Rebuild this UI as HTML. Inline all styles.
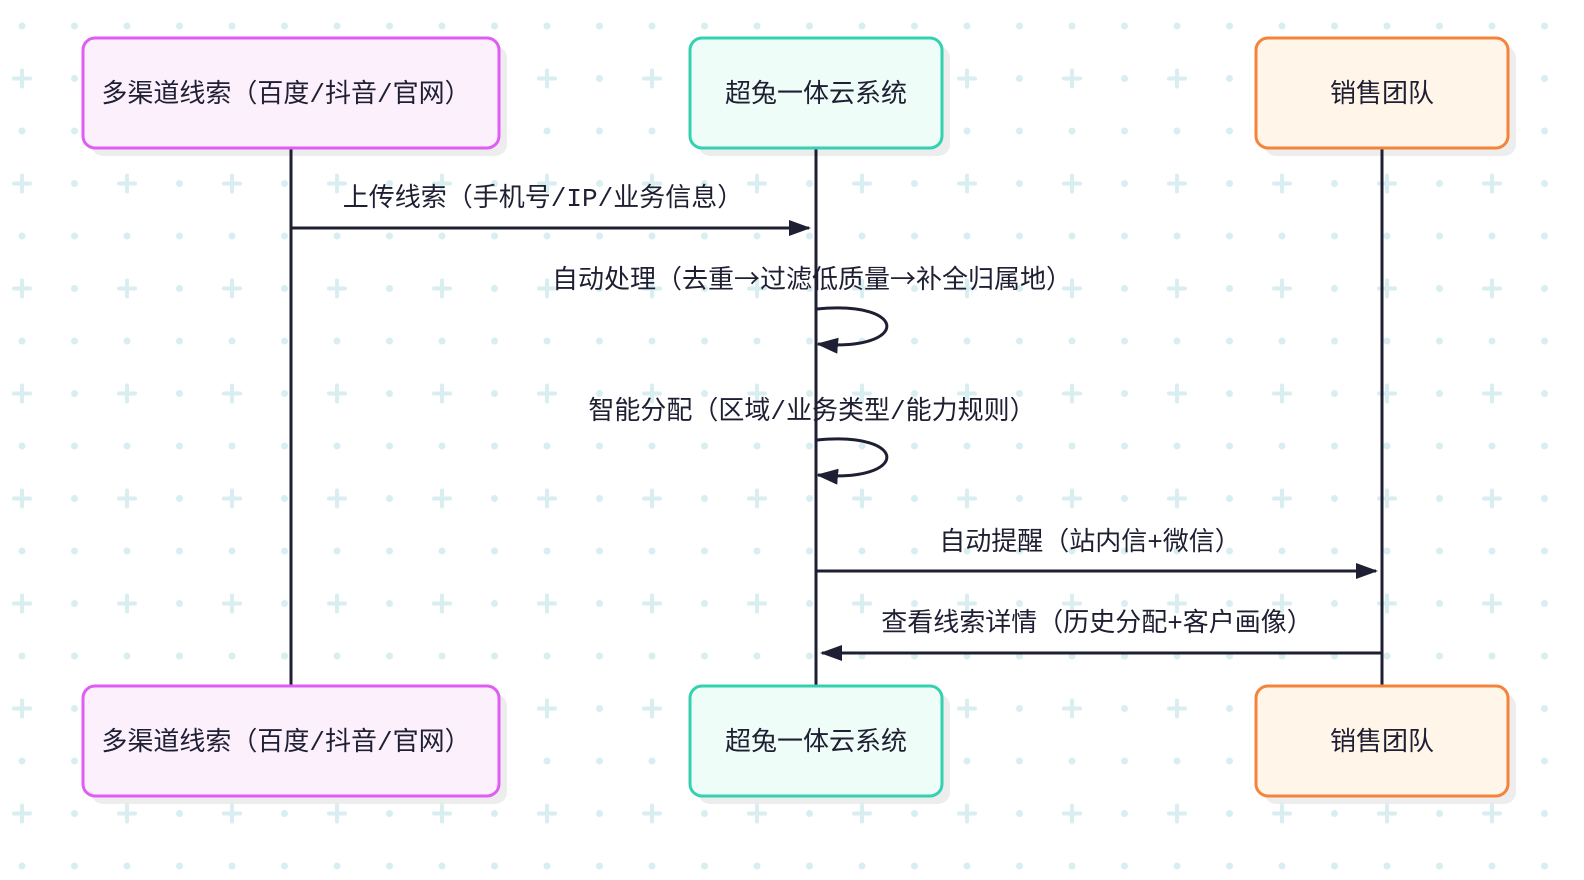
<!DOCTYPE html>
<html><head><meta charset="utf-8"><style>
html,body{margin:0;padding:0;background:#fff;width:1584px;height:880px;overflow:hidden}
svg text{font-family:"Liberation Mono","Noto Sans CJK SC",monospace;fill:#1f1f33}
.cjk{font-family:"Noto Sans CJK SC",sans-serif}
</style></head><body>
<svg width="1584" height="880" viewBox="0 0 1584 880" xmlns="http://www.w3.org/2000/svg">
<defs>
<pattern id="bg" x="12" y="16" width="105" height="105" patternUnits="userSpaceOnUse">
<circle cx="10" cy="10" r="3.5" fill="#d8eef1"/>
<circle cx="62.5" cy="10" r="3.5" fill="#d8eef1"/>
<circle cx="62.5" cy="62.5" r="3.5" fill="#d8eef1"/>
<path d="M2 62.5h16M10 54.5v16" stroke="#d8eef1" stroke-width="4" stroke-linecap="round"/>
</pattern>
<marker id="ah" markerWidth="22" markerHeight="16" refX="20" refY="8" orient="auto" markerUnits="userSpaceOnUse">
<path d="M0 0L22 8L0 16z" fill="#1f1f33"/>
</marker>
</defs>
<rect width="1584" height="880" fill="url(#bg)"/>
<g fill="#000" opacity="0.07">
<rect x="91" y="46" width="416" height="110" rx="12"/>
<rect x="698" y="46" width="252" height="110" rx="12"/>
<rect x="1264" y="46" width="252" height="110" rx="12"/>
<rect x="91" y="694" width="416" height="110" rx="12"/>
<rect x="698" y="694" width="252" height="110" rx="12"/>
<rect x="1264" y="694" width="252" height="110" rx="12"/>
</g>
<g stroke="#1f1f33" stroke-width="3">
<line x1="291" y1="148" x2="291" y2="686"/>
<line x1="816" y1="148" x2="816" y2="686"/>
<line x1="1382" y1="148" x2="1382" y2="686"/>
</g>
<g stroke-width="3">
<rect x="83" y="38" width="416" height="110" rx="12" fill="#fdf0fd" stroke="#e05cf5"/>
<rect x="690" y="38" width="252" height="110" rx="12" fill="#effdf9" stroke="#34d1b0"/>
<rect x="1256" y="38" width="252" height="110" rx="12" fill="#fff5e8" stroke="#f5843a"/>
<rect x="83" y="686" width="416" height="110" rx="12" fill="#fdf0fd" stroke="#e05cf5"/>
<rect x="690" y="686" width="252" height="110" rx="12" fill="#effdf9" stroke="#34d1b0"/>
<rect x="1256" y="686" width="252" height="110" rx="12" fill="#fff5e8" stroke="#f5843a"/>
</g>
<g font-size="26" text-anchor="middle">
<text x="286" y="102">多渠道线索（百度/抖音/官网）</text>
<text x="816" y="102">超兔一体云系统</text>
<text x="1382" y="102">销售团队</text>
<text x="286" y="750">多渠道线索（百度/抖音/官网）</text>
<text x="816" y="750">超兔一体云系统</text>
<text x="1382" y="750">销售团队</text>
</g>
<g stroke="#1f1f33" stroke-width="3" fill="none">
<line x1="291" y1="228" x2="809" y2="228" marker-end="url(#ah)"/>
<path d="M817 309 C910 300, 910 352, 818 344" marker-end="url(#ah)"/>
<path d="M817 440 C910 431, 910 483, 818 475" marker-end="url(#ah)"/>
<line x1="816" y1="571" x2="1376" y2="571" marker-end="url(#ah)"/>
<line x1="1382" y1="653" x2="822" y2="653" marker-end="url(#ah)"/>
</g>
<g font-size="26" text-anchor="middle">
<text x="543" y="206">上传线索（手机号/IP/业务信息）</text>
<text x="812" y="288">自动处理（去重<tspan class="cjk">→</tspan>过滤低质量<tspan class="cjk">→</tspan>补全归属地）</text>
<text x="812" y="419">智能分配（区域/业务类型/能力规则）</text>
<text x="1090" y="550">自动提醒（站内信+微信）</text>
<text x="1097" y="631">查看线索详情（历史分配+客户画像）</text>
</g>
</svg>
</body></html>
